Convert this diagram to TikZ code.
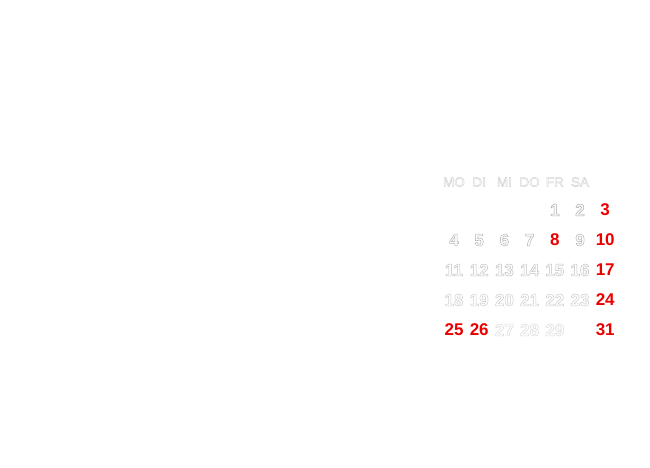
\documentclass[tikz,border=0pt]{standalone}
\usepackage{fontspec}
\setmainfont{Liberation Sans}
\usetikzlibrary{positioning}
\definecolor{feiertag}{RGB}{235,0,0}
\newcommand\umriss[1]{\special{pdf:literal direct 1 Tr 0.5 w}#1\special{pdf:literal direct 0 Tr}}

\begin{document}
\begin{tikzpicture}[x=1pt,y=-1pt,
  tag/.style={font=\fontsize{17}{17}\selectfont\bfseries,inner sep=0pt},
  rottag/.style={tag,text=feiertag},
  kopf/.style={font=\fontsize{13.5}{13.5}\selectfont,text=gray!32,inner sep=0pt}]
  \useasboundingbox (0,0) rectangle (650,467);
  % Wochentage
  \foreach \w [count=\i from 0] in {MO,DI,MI,DO,FR,SA}
    \node[kopf] (k\i) at (454+25.2*\i,182) {\umriss{\w}};
  % graue Tage, nach unten heller
  \foreach \d in {1,2,4,5,6,7,9,11,12,13,14,15,16,18,19,20,21,22,23,27,28,29} {
    \pgfmathtruncatemacro\spalte{mod(\d+3,7)}
    \pgfmathtruncatemacro\zeile{(\d+3)/7}
    \pgfmathtruncatemacro\grau{70-10*\zeile}
    \node[tag,text=gray!\grau] (t\d) at (454+25.2*\spalte,210+30*\zeile) {\umriss{\d}};
  }
  % Sonn- und Feiertage
  \foreach \d in {3,8,10,17,24,25,26,31} {
    \pgfmathtruncatemacro\spalte{mod(\d+3,7)}
    \pgfmathtruncatemacro\zeile{(\d+3)/7}
    \node[rottag] (t\d) at (454+25.2*\spalte,210+30*\zeile) {\d};
  }
\end{tikzpicture}
\end{document}
